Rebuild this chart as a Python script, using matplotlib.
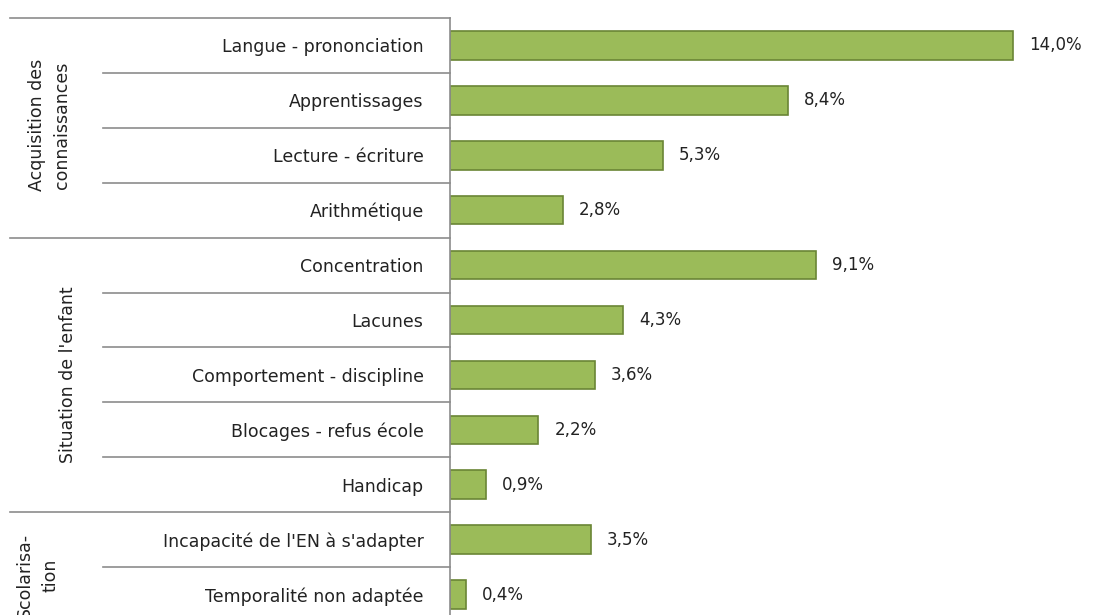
import matplotlib.pyplot as plt

groups = ["Acquisition des\nconnaissances", "Situation de l'enfant", "Scolarisa-\ntion"]
group_sizes = [4, 5, 2]
labels = ["Langue - prononciation", "Apprentissages", "Lecture - écriture", "Arithmétique",
          "Concentration", "Lacunes", "Comportement - discipline", "Blocages - refus école", "Handicap",
          "Incapacité de l'EN à s'adapter", "Temporalité non adaptée"]
values = [14.0, 8.4, 5.3, 2.8, 9.1, 4.3, 3.6, 2.2, 0.9, 3.5, 0.4]

fig = plt.figure(figsize=(10.99, 6.15), dpi=100)
ax = fig.add_axes([450 / 1099, -7 / 615, 649 / 1099, 604 / 615])

y = list(range(len(values)))
ax.barh(y, values, height=0.52, color="#9BBB59", edgecolor="#6A8535", linewidth=1.2)
ax.set_ylim(len(values) - 0.5, -0.5)
ax.set_xlim(0, 649 / 40.2)

for i, v in enumerate(values):
    ax.text(v + 0.4, i, f"{v:.1f}%".replace(".", ","), va="center", ha="left",
            fontsize=12, color="#222222")

ax.set_yticks(y)
ax.set_yticklabels(labels, fontsize=12.5, color="#222222")
ax.tick_params(axis="y", length=0, pad=19)
ax.set_xticks([])
for s in ["top", "right", "bottom"]:
    ax.spines[s].set_visible(False)
ax.spines["left"].set_color("#8C8C8C")
ax.spines["left"].set_linewidth(1.2)

tr = ax.get_yaxis_transform()
grey = "#8C8C8C"
# separator lines between items and between groups
start = 0
for g, n in zip(groups, group_sizes):
    ax.plot([-0.678, 0], [start - 0.5, start - 0.5], transform=tr, color=grey, lw=1.2, clip_on=False)
    for k in range(1, n):
        ax.plot([-0.535, 0], [start + k - 0.5, start + k - 0.5], transform=tr, color=grey, lw=1.2,
                clip_on=False)
    start += n

# group labels
ax.text(-0.617, 1.45, groups[0], transform=tr, rotation=90, ha="center", va="center",
        fontsize=12.5, color="#222222", linespacing=1.55)
ax.text(-0.589, 6.0, groups[1], transform=tr, rotation=90, ha="center", va="center",
        fontsize=12.5, color="#222222")
ax.text(-0.635, 9.65, groups[2], transform=tr, rotation=90, ha="center", va="center",
        fontsize=12.5, color="#222222", linespacing=1.55)

fig.savefig("out.png", dpi=100)
